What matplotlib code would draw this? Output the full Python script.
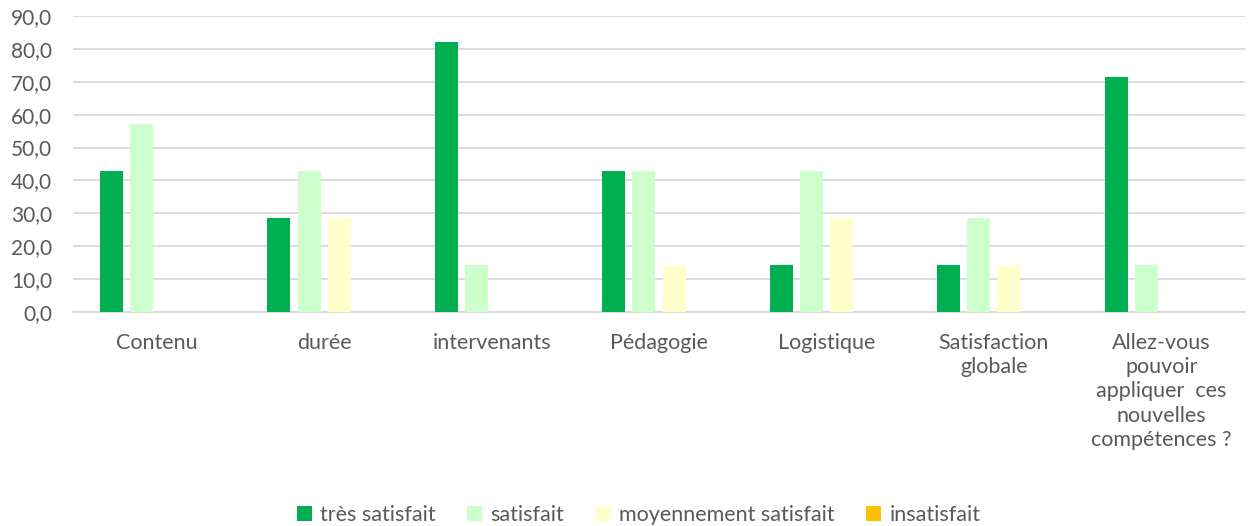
import numpy as np
import matplotlib
matplotlib.use("Agg")
import matplotlib.pyplot as plt

plt.rcParams['font.family'] = ['Lato', 'DejaVu Sans']

categories = ["Contenu", "durée", "intervenants", "Pédagogie", "Logistique",
              "Satisfaction\nglobale",
              "Allez-vous\npouvoir\nappliquer  ces\nnouvelles\ncompétences ?"]
tres_satisfait = [42.9, 28.6, 82.1, 42.9, 14.3, 14.3, 71.4]
satisfait = [57.1, 42.9, 14.3, 42.9, 42.9, 28.6, 14.3]
moyennement = [0, 28.6, 0, 14.3, 28.6, 14.3, 0]
insatisfait = [0, 0, 0, 0, 0, 0, 0]

series = [("très satisfait", tres_satisfait, "#00B050"),
          ("satisfait", satisfait, "#CCFFCC"),
          ("moyennement satisfait", moyennement, "#FFFFCC"),
          ("insatisfait", insatisfait, "#FFC000")]

grey = "#595959"
fig = plt.figure(figsize=(12.5, 5.26), dpi=100)
ax = fig.add_axes([73 / 1250, 1 - 312 / 526, (1245 - 73) / 1250, (312 - 16) / 526])

x = np.arange(len(categories))
step = 0.18
width = 0.138
for i, (name, vals, col) in enumerate(series):
    ax.bar(x + (i - 1.5) * step, vals, width, color=col, label=name, zorder=3)

ax.set_xlim(-0.5, len(categories) - 0.5)
ax.set_ylim(0, 90)
ax.set_yticks(np.arange(0, 91, 10))
ax.set_yticklabels([f"{v:.1f}".replace(".", ",") for v in np.arange(0, 91, 10)])
ax.grid(axis='y', color="#D9D9D9", linewidth=1.3, zorder=0)
for s in ["top", "right", "left"]:
    ax.spines[s].set_visible(False)
ax.spines["bottom"].set_color("#D9D9D9")
ax.spines["bottom"].set_linewidth(1.3)
ax.set_xticks(x)
ax.set_xticklabels(categories, va="top", linespacing=1.27)
ax.tick_params(axis='both', length=0, colors=grey)
ax.tick_params(axis='x', pad=15, labelsize=15.5)
ax.tick_params(axis='y', pad=15, labelsize=15)

fig.legend(loc="lower center", bbox_to_anchor=(0.511, -0.035), ncol=4, frameon=False,
           fontsize=15.5, labelcolor=grey, handlelength=0.7, handleheight=0.7,
           handletextpad=0.4, columnspacing=1.45)

fig.savefig("out.png", dpi=100)
